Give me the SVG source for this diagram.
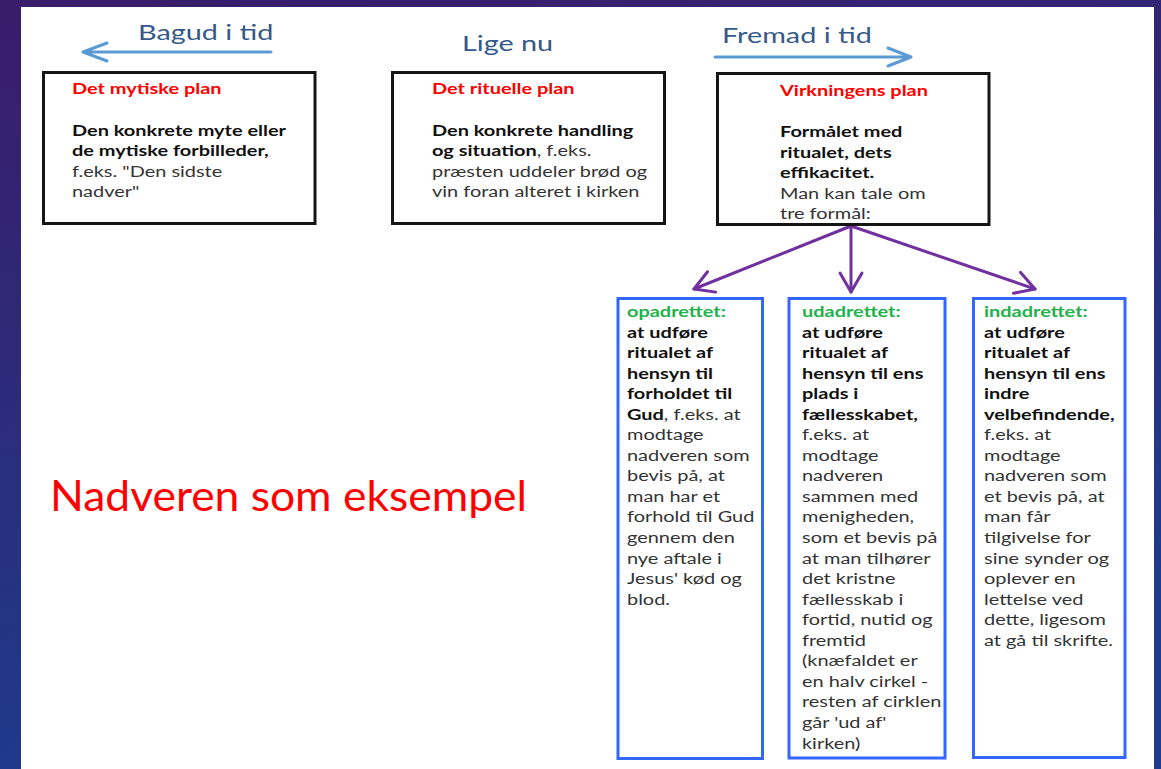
<svg xmlns="http://www.w3.org/2000/svg" width="1161" height="769" viewBox="0 0 1161 769">
<defs>
<linearGradient id="bg" x1="0" y1="0" x2="0.3" y2="1">
<stop offset="0" stop-color="#3a1c6a"/>
<stop offset="1" stop-color="#1d3c8e"/>
</linearGradient>
<marker id="pa" markerUnits="userSpaceOnUse" viewBox="-24 -14 28 28" refX="0" refY="0" markerWidth="28" markerHeight="28" orient="auto">
<path d="M-19,-11 L0,0 L-19,11" fill="none" stroke="#7030a0" stroke-width="3" stroke-linecap="round" stroke-linejoin="round"/>
</marker>
<style>
.bx{fill:#fff;stroke:#151515;stroke-width:3}
.bb{fill:#fff;stroke:#3366ff;stroke-width:3}
.t{font-family:Lato,"Open Sans",sans-serif;font-size:15px;fill:#333}
.b{font-weight:700;fill:#111}
.red{font-family:Lato,"Open Sans",sans-serif;font-size:15px;font-weight:700;fill:#ff0000}
.grn{font-weight:700;fill:#22b24c}
.hdr{font-family:Lato,"Open Sans",sans-serif;font-size:22px;fill:#34598a}
.big{font-family:Lato,"Open Sans",sans-serif;font-size:42px;fill:#ff0000}
.ha{fill:none;stroke:#5b9bd5;stroke-width:3;stroke-linecap:round;stroke-linejoin:round}
.pc{fill:none;stroke:#7030a0;stroke-width:3;stroke-linecap:round}
</style>
</defs>
<rect x="0" y="0" width="1161" height="769" fill="url(#bg)"/>
<rect x="21" y="7" width="1133" height="762" fill="#ffffff"/>

<g id="header-bagud">
<text class="hdr" transform="translate(138,40) scale(1.31,1)">Bagud i tid</text>
<path class="ha" d="M271,52 L83,52 M107,43 L83,52 L107,61"/>
</g>
<g id="header-lige">
<text class="hdr" transform="translate(462,51) scale(1.31,1)">Lige nu</text>
</g>
<g id="header-fremad">
<text class="hdr" transform="translate(722,43) scale(1.31,1)">Fremad i tid</text>
<path class="ha" d="M715,57 L911,57 M888,48 L911,57 L888,66"/>
</g>

<g id="connectors">
<line class="pc" x1="851" y1="226" x2="694" y2="289" marker-end="url(#pa)"/>
<line class="pc" x1="851" y1="226" x2="851" y2="292" marker-end="url(#pa)"/>
<line class="pc" x1="851" y1="226" x2="1035" y2="289" marker-end="url(#pa)"/>
</g>

<g id="mytiske">
<rect class="bx" x="43.5" y="72.5" width="271.5" height="151"/>
<g transform="translate(72,0) scale(1.33,1)">
<text class="red" x="0" y="94">Det mytiske plan</text>
<text class="t" y="136"><tspan x="0" class="b">Den konkrete myte eller</tspan><tspan x="0" dy="20.5" class="b">de mytiske forbilleder,</tspan><tspan x="0" dy="20.5">f.eks. "Den sidste</tspan><tspan x="0" dy="20.5">nadver"</tspan></text>
</g>
</g>

<g id="rituelle">
<rect class="bx" x="392.5" y="72.5" width="272" height="151"/>
<g transform="translate(432,0) scale(1.33,1)">
<text class="red" x="0" y="94">Det rituelle plan</text>
<text class="t" y="136"><tspan x="0" class="b">Den konkrete handling</tspan><tspan x="0" dy="20.5" class="b">og situation</tspan><tspan>, f.eks.</tspan><tspan x="0" dy="20.5">præsten uddeler brød og</tspan><tspan x="0" dy="20.5">vin foran alteret i kirken</tspan></text>
</g>
</g>

<g id="virkning">
<rect class="bx" x="717.5" y="73.5" width="271.5" height="151"/>
<g transform="translate(780,0) scale(1.33,1)">
<text class="red" x="0" y="96">Virkningens plan</text>
<text class="t" y="137.5"><tspan x="0" class="b">Formålet med</tspan><tspan x="0" dy="20.5" class="b">ritualet, dets</tspan><tspan x="0" dy="20.5" class="b">effikacitet.</tspan><tspan x="0" dy="20.5">Man kan tale om</tspan><tspan x="0" dy="20.5">tre formål:</tspan></text>
</g>
</g>

<g id="opadrettet">
<rect class="bb" x="618" y="298.5" width="144.5" height="460"/>
<g transform="translate(627,0) scale(1.33,1)">
<text class="t" y="317"><tspan x="0" class="grn">opadrettet:</tspan><tspan x="0" dy="20.55" class="b">at udføre</tspan><tspan x="0" dy="20.55" class="b">ritualet af</tspan><tspan x="0" dy="20.55" class="b">hensyn til</tspan><tspan x="0" dy="20.55" class="b">forholdet til</tspan><tspan x="0" dy="20.55" class="b">Gud</tspan><tspan>, f.eks. at</tspan><tspan x="0" dy="20.55">modtage</tspan><tspan x="0" dy="20.55">nadveren som</tspan><tspan x="0" dy="20.55">bevis på, at</tspan><tspan x="0" dy="20.55">man har et</tspan><tspan x="0" dy="20.55">forhold til Gud</tspan><tspan x="0" dy="20.55">gennem den</tspan><tspan x="0" dy="20.55">nye aftale i</tspan><tspan x="0" dy="20.55">Jesus' kød og</tspan><tspan x="0" dy="20.55">blod.</tspan></text>
</g>
</g>

<g id="udadrettet">
<rect class="bb" x="789" y="298.5" width="156" height="459.5"/>
<g transform="translate(802,0) scale(1.33,1)">
<text class="t" y="317"><tspan x="0" class="grn">udadrettet:</tspan><tspan x="0" dy="20.55" class="b">at udføre</tspan><tspan x="0" dy="20.55" class="b">ritualet af</tspan><tspan x="0" dy="20.55" class="b">hensyn til ens</tspan><tspan x="0" dy="20.55" class="b">plads i</tspan><tspan x="0" dy="20.55" class="b">fællesskabet,</tspan><tspan x="0" dy="20.55">f.eks. at</tspan><tspan x="0" dy="20.55">modtage</tspan><tspan x="0" dy="20.55">nadveren</tspan><tspan x="0" dy="20.55">sammen med</tspan><tspan x="0" dy="20.55">menigheden,</tspan><tspan x="0" dy="20.55">som et bevis på</tspan><tspan x="0" dy="20.55">at man tilhører</tspan><tspan x="0" dy="20.55">det kristne</tspan><tspan x="0" dy="20.55">fællesskab i</tspan><tspan x="0" dy="20.55">fortid, nutid og</tspan><tspan x="0" dy="20.55">fremtid</tspan><tspan x="0" dy="20.55">(knæfaldet er</tspan><tspan x="0" dy="20.55">en halv cirkel -</tspan><tspan x="0" dy="20.55">resten af cirklen</tspan><tspan x="0" dy="20.55">går 'ud af'</tspan><tspan x="0" dy="20.55">kirken)</tspan></text>
</g>
</g>

<g id="indadrettet">
<rect class="bb" x="973.5" y="298.5" width="151.5" height="459"/>
<g transform="translate(984,0) scale(1.33,1)">
<text class="t" y="317"><tspan x="0" class="grn">indadrettet:</tspan><tspan x="0" dy="20.55" class="b">at udføre</tspan><tspan x="0" dy="20.55" class="b">ritualet af</tspan><tspan x="0" dy="20.55" class="b">hensyn til ens</tspan><tspan x="0" dy="20.55" class="b">indre</tspan><tspan x="0" dy="20.55" class="b">velbefindende,</tspan><tspan x="0" dy="20.55">f.eks. at</tspan><tspan x="0" dy="20.55">modtage</tspan><tspan x="0" dy="20.55">nadveren som</tspan><tspan x="0" dy="20.55">et bevis på, at</tspan><tspan x="0" dy="20.55">man får</tspan><tspan x="0" dy="20.55">tilgivelse for</tspan><tspan x="0" dy="20.55">sine synder og</tspan><tspan x="0" dy="20.55">oplever en</tspan><tspan x="0" dy="20.55">lettelse ved</tspan><tspan x="0" dy="20.55">dette, ligesom</tspan><tspan x="0" dy="20.55">at gå til skrifte.</tspan></text>
</g>
</g>

<g id="caption">
<text class="big" x="50" y="511" textLength="477" lengthAdjust="spacingAndGlyphs">Nadveren som eksempel</text>
</g>
</svg>
